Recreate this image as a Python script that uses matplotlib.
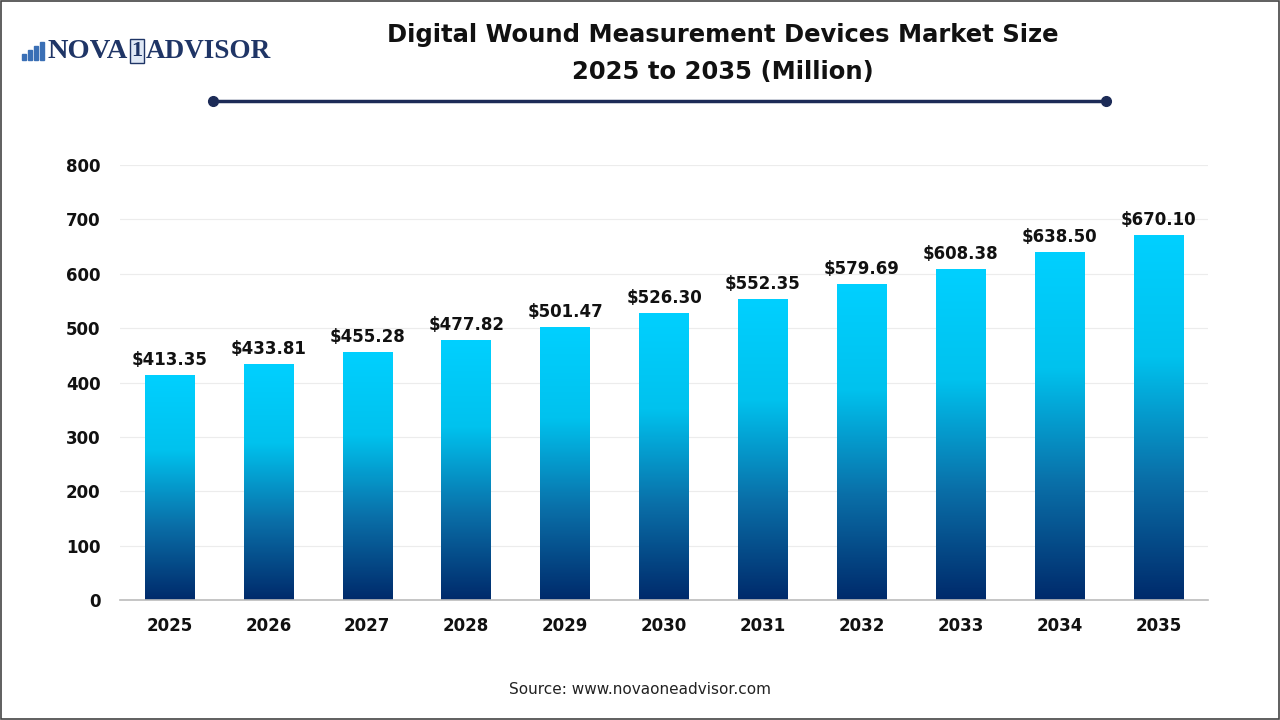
import numpy as np
import matplotlib.pyplot as plt
from matplotlib.colors import LinearSegmentedColormap
from matplotlib.patches import Rectangle

years = ["2025", "2026", "2027", "2028", "2029", "2030", "2031", "2032", "2033", "2034", "2035"]
values = [413.35, 433.81, 455.28, 477.82, 501.47, 526.30, 552.35, 579.69, 608.38, 638.50, 670.10]
yticks = [0, 100, 200, 300, 400, 500, 600, 700, 800]

title_1 = "Digital Wound Measurement Devices Market Size"
title_2 = "2025 to 2035 (Million)"
source = "Source: www.novaoneadvisor.com"

navy = "#1c2b57"
logo_col = "#1f3566"
cmap = LinearSegmentedColormap.from_list("bar", ["#002a6b", "#0a6fa8", "#00c2ee", "#00d0ff"])

W, H = 1280, 720
fig = plt.figure(figsize=(12.8, 7.2), dpi=100)
ax = fig.add_axes([120 / W, 1 - 600 / H, 1088 / W, 435 / H])

def fx(px):
    return px / W

def fy(py):
    return 1 - py / H

x = np.arange(len(years))
bar_w = 0.5
grad = np.linspace(0, 1, 256).reshape(-1, 1)
for xi, v in zip(x, values):
    ax.imshow(grad, extent=[xi - bar_w / 2, xi + bar_w / 2, 0, v], origin="lower",
              cmap=cmap, aspect="auto", zorder=2)
    ax.text(xi, v + 12, f"${v:,.2f}", ha="center", va="bottom",
            fontsize=12, fontweight="bold", color="#111111")

ax.set_xlim(-0.5, len(years) - 0.5)
ax.set_ylim(0, 800)
ax.set_xticks(x)
ax.set_xticklabels(years, fontsize=12, fontweight="bold", color="#111111")
ax.set_yticks(yticks)
ax.set_yticklabels([str(t) for t in yticks], fontsize=12, fontweight="bold", color="#111111")
ax.tick_params(length=0, pad=14)
ax.tick_params(axis="x", pad=12)
ax.grid(axis="y", color="#ececec", linewidth=0.8, zorder=0)
ax.set_axisbelow(True)
for s in ["top", "right", "left"]:
    ax.spines[s].set_visible(False)
ax.spines["bottom"].set_color("#bbbbbb")
ax.spines["bottom"].set_linewidth(1.2)

fig.text(fx(723), fy(35), title_1, ha="center", va="center", fontsize=17.5,
         fontweight="bold", color="#111111")
fig.text(fx(723), fy(72), title_2, ha="center", va="center", fontsize=17.5,
         fontweight="bold", color="#111111")

# divider line with end dots
fig.add_artist(plt.Line2D([fx(213), fx(1106)], [fy(101), fy(101)],
                          color=navy, linewidth=2.5, marker="o", markersize=7,
                          markevery=[0, 1], transform=fig.transFigure))

fig.text(0.5, fy(689), source, ha="center", va="center", fontsize=11, color="#222222")

# logo
logo_y = fy(51)
for i, h in enumerate([6, 10, 14, 18]):
    fig.add_artist(Rectangle((fx(22 + i * 6), fy(60)), fx(4), h / H,
                             color="#3a6fb5", transform=fig.transFigure))
fig.text(fx(48), logo_y, "NOVA", ha="left", va="center", fontsize=20.5, fontweight="bold",
         family="Liberation Serif", color=logo_col)
fig.text(fx(137), logo_y, "1", ha="center", va="center", fontsize=16, fontweight="bold",
         family="Liberation Serif", color=logo_col,
         bbox=dict(boxstyle="square,pad=0.08", fc="#dfe8f5", ec=logo_col, lw=1))
fig.text(fx(146), logo_y, "ADVISOR", ha="left", va="center", fontsize=19.5, fontweight="bold",
         family="Liberation Serif", color=logo_col)

# outer border
fig.add_artist(Rectangle((0.0008, 0.0014), 0.9984, 0.9972, fill=False, ec="#444444",
                         lw=1.2, transform=fig.transFigure))

fig.savefig("out.png", dpi=100)
